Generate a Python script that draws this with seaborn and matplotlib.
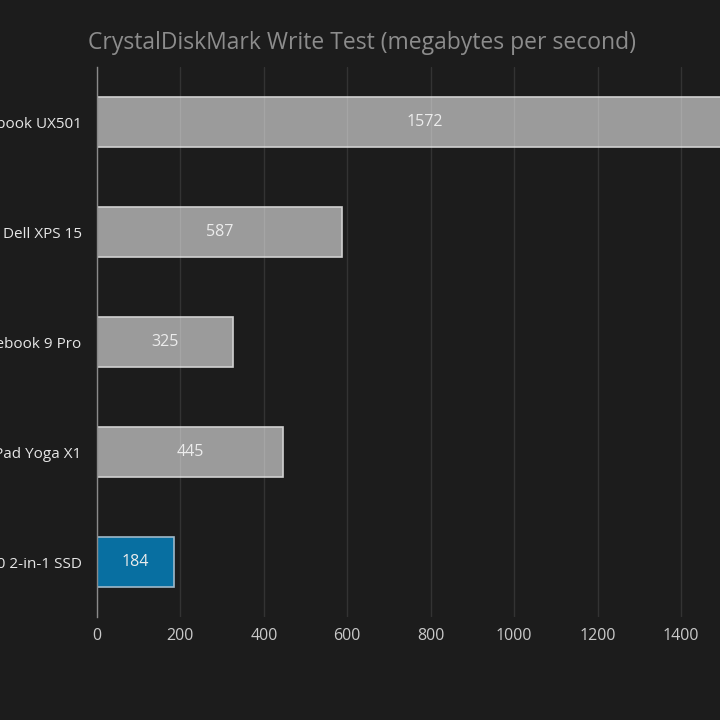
import matplotlib
matplotlib.use("Agg")
import matplotlib.pyplot as plt
import seaborn as sns
import pandas as pd

# data
laptops = [
    "Asus Zenbook UX501",
    "Dell XPS 15",
    "Samsung Notebook 9 Pro",
    "Lenovo ThinkPad Yoga X1",
    "HP Spectre x360 2-in-1 SSD",
]
write_mbps = [1572, 587, 325, 445, 184]
bar_colors = ["#9b9b9b", "#9b9b9b", "#9b9b9b", "#9b9b9b", "#086fa1"]
edge_colors = ["#d0d0d0", "#d0d0d0", "#d0d0d0", "#d0d0d0", "#9fb9c9"]
xticks = [0, 200, 400, 600, 800, 1000, 1200, 1400]

bg = "#1c1c1c"
sns.set_theme(style="dark")
plt.rcParams["font.family"] = ["Open Sans", "DejaVu Sans"]

df = pd.DataFrame({"laptop": laptops, "mbps": write_mbps})

fig = plt.figure(figsize=(7.2, 7.2), dpi=100, facecolor=bg)
# axes run past the right edge, like the cropped original
px = (681 - 97) / 1400
ax = fig.add_axes([97 / 720, 1 - 617 / 720, 1600 * px / 720, 550 / 720])
ax.set_facecolor(bg)

sns.barplot(
    data=df, y="laptop", x="mbps", hue="laptop",
    palette=bar_colors, orient="h", width=0.455,
    legend=False, ax=ax, saturation=1, zorder=2,
)
for patch, ec in zip(ax.patches, edge_colors):
    patch.set_edgecolor(ec)
    patch.set_linewidth(1.2)

for cont in ax.containers:
    ax.bar_label(cont, label_type="center", color="#ececec", fontsize=11.5)

ax.set_xlim(0, 1600)
ax.set_ylim(4.5, -0.5)
ax.set_xticks(xticks + [1600])
ax.set_xticklabels([str(t) for t in xticks] + [""])
ax.grid(axis="x", color="white", alpha=0.1, linewidth=1, zorder=3)
ax.set_axisbelow(False)
ax.grid(axis="y", visible=False)

for side in ["top", "right", "bottom"]:
    ax.spines[side].set_visible(False)
ax.spines["left"].set_color("#8a8a8a")
ax.spines["left"].set_linewidth(1)
ax.spines["left"].set_zorder(4)

ax.tick_params(axis="x", length=0, pad=8, labelsize=11.5, labelcolor="#c9c9c9")
ax.tick_params(axis="y", length=0, pad=11, labelsize=11, labelcolor="#e6e6e6")
ax.set_xlabel("")
ax.set_ylabel("")

fig.text(0.503, 1 - 43 / 720, "CrystalDiskMark Write Test (megabytes per second)",
         ha="center", va="center", color="#8c8c8c", fontsize=16.5)

fig.savefig("out.png", dpi=100, facecolor=bg)
